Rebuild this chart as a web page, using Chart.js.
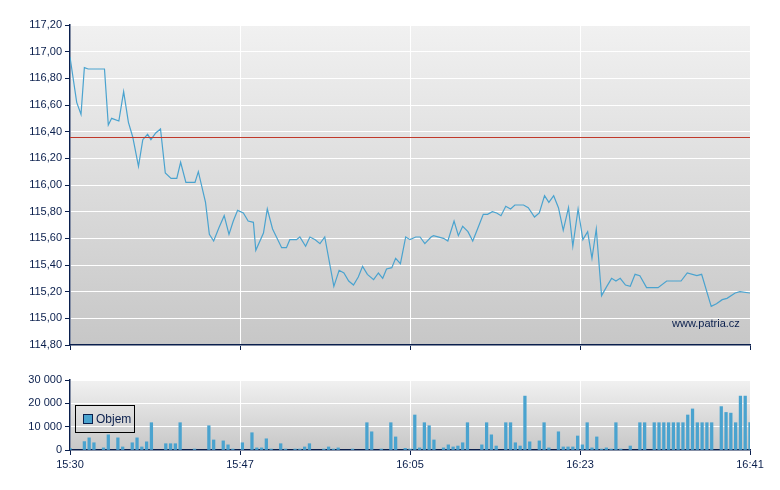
<!DOCTYPE html>
<html><head><meta charset="utf-8">
<script src="https://cdn.jsdelivr.net/npm/chart.js@4"></script>
<style>
body{margin:0;background:#fff;width:780px;height:490px;position:relative;overflow:hidden;font-family:"Liberation Sans",Arial,sans-serif}
#c1{position:absolute;left:0;top:0}
#c2{position:absolute;left:0;top:370px}
#leg{position:absolute;left:75px;top:405px;width:60px;height:28px;border:1px solid #000;font-size:12px;line-height:26px;color:#0a1f4d;box-sizing:border-box}
#leg span{display:inline-block;width:8px;height:8px;background:#4aa3cf;border:1px solid #0a1f4d;margin:0 3px 0 7px;vertical-align:-1px}
#wm{position:absolute;left:672px;top:317px;font-size:11px;color:#0a1f4d}
</style></head><body>
<canvas id="c1" width="780" height="360"></canvas>
<canvas id="c2" width="780" height="120"></canvas>
<div id="leg"><span></span>Objem</div>
<div id="wm">www.patria.cz</div>
<script>
const tickMinutes=[0,17.75,35.5,53.25,71];
const tickLabels=["15:30","15:47","16:05","16:23","16:41"];
const prevClose=116.36;
const priceTimes=[0,0.7,1.15,1.5,1.9,3.6,4.0,4.35,5.1,5.6,6.1,6.55,7.15,7.6,8.1,8.45,8.95,9.45,9.95,10.55,11.15,11.55,12.1,13.05,13.4,14.15,14.55,15.0,15.55,16.1,16.6,17.05,17.5,18.1,18.6,19.15,19.4,20.2,20.6,21.15,22.1,22.6,22.95,23.65,24.0,24.6,25.05,25.6,26.1,26.6,27.55,28.1,28.6,29.1,29.6,30.1,30.55,31.05,31.7,32.2,32.65,33.05,33.6,34.0,34.5,35.05,35.5,36.1,36.55,37.05,37.7,37.95,39.0,39.45,40.1,40.55,41.0,41.55,42.05,42.55,43.15,43.6,44.1,44.55,45.0,45.5,46.0,46.45,47.35,47.85,48.5,49.0,49.55,50.0,50.5,51.0,51.5,52.05,52.5,53.05,53.55,54.05,54.5,54.95,55.5,56.05,56.55,57.0,57.45,58.0,58.5,59.0,59.5,60.2,61.4,62.3,62.9,63.8,64.45,65.45,65.95,66.95,67.5,68.1,68.6,69.45,69.95,71];
const prices=[116.96,116.62,116.53,116.88,116.87,116.87,116.45,116.50,116.48,116.70,116.47,116.36,116.14,116.34,116.38,116.34,116.39,116.42,116.09,116.05,116.05,116.17,116.02,116.02,116.10,115.87,115.63,115.58,115.68,115.77,115.63,115.73,115.81,115.79,115.73,115.72,115.51,115.64,115.82,115.67,115.53,115.53,115.59,115.59,115.61,115.54,115.61,115.59,115.56,115.61,115.24,115.36,115.34,115.28,115.25,115.31,115.39,115.33,115.29,115.34,115.30,115.37,115.38,115.45,115.41,115.61,115.59,115.61,115.61,115.56,115.61,115.62,115.60,115.58,115.73,115.62,115.69,115.65,115.58,115.67,115.78,115.78,115.80,115.79,115.77,115.84,115.82,115.85,115.85,115.83,115.76,115.79,115.92,115.87,115.92,115.83,115.66,115.83,115.54,115.82,115.59,115.65,115.45,115.67,115.17,115.24,115.30,115.28,115.30,115.25,115.24,115.33,115.32,115.23,115.23,115.28,115.28,115.28,115.34,115.32,115.33,115.09,115.11,115.14,115.15,115.19,115.20,115.19];
const volSlots=[0,3,4,5,7,8,10,11,13,14,15,16,17,20,21,22,23,26,29,30,32,33,34,36,38,39,40,41,42,44,45,47,48,49,50,53,54,55,56,59,62,63,65,67,68,70,71,72,73,74,75,76,78,79,80,81,82,83,86,87,88,89,91,92,93,94,95,96,98,99,100,102,103,104,105,106,107,108,109,110,111,112,113,114,115,117,119,120,122,123,124,125,126,127,128,129,130,131,132,133,134,136,137,138,139,140,141,142];
const volumes=[700,3600,5200,3100,900,6500,5200,1300,3100,5200,1300,3500,11700,2700,2700,2700,11700,400,10400,4300,3900,2200,400,3100,7400,900,900,4800,400,2700,400,400,400,1300,2700,400,1300,400,900,400,11700,7800,400,11700,5600,700,400,15000,900,11700,10400,4300,900,2200,1300,1700,3100,11700,2200,11700,6500,1700,11700,11700,3100,1700,23100,3500,3900,11700,900,7800,1300,1300,1300,6000,2200,11700,900,5600,400,900,400,11700,400,1700,11700,11700,11700,11700,11700,11700,11700,11700,11700,15000,17600,11700,11700,11700,11700,18600,16100,15800,11700,23100,23100,11700];

const navy="#0a1f4d";
const font={family:"'Liberation Sans', Arial, sans-serif",size:11};
const bgPlugin={id:'bg',beforeDraw(c){const a=c.chartArea,x=c.ctx;const g=x.createLinearGradient(0,a.top,0,a.bottom);g.addColorStop(0,'#f1f1f1');g.addColorStop(1,'#c7c7c7');x.save();x.fillStyle=g;x.fillRect(a.left,a.top,a.right-a.left,a.bottom-a.top);x.restore();}};
const refPlugin={id:'ref',afterDatasetsDraw(c){const y=c.scales.y.getPixelForValue(prevClose),a=c.chartArea,x=c.ctx;x.save();x.strokeStyle='#c0392b';x.lineWidth=1;x.beginPath();x.moveTo(a.left,Math.round(y)+0.5);x.lineTo(a.right,Math.round(y)+0.5);x.stroke();x.restore();}};
function xScale(showLabels,h){return {type:'linear',min:0,max:71,offset:false,
  afterBuildTicks(s){s.ticks=tickMinutes.map(v=>({value:v}));},
  afterFit(s){s.height=h;},
  ticks:{display:showLabels,color:navy,font,maxRotation:0,autoSkip:false,callback:(v,i)=>tickLabels[i]},
  grid:{offset:false,color:'#ffffff',lineWidth:1,tickColor:navy,tickLength:5},
  border:{color:navy,width:1.5}};}
new Chart(document.getElementById('c1'),{type:'line',
 data:{datasets:[{data:priceTimes.map((t,i)=>({x:t,y:prices[i]})),borderColor:'#4aa3cf',borderWidth:1.2,pointRadius:0,tension:0}]},
 options:{responsive:false,animation:false,layout:{padding:{top:25,right:30,left:0,bottom:0}},
  plugins:{legend:{display:false},tooltip:{enabled:false}},
  scales:{x:xScale(false,15),
   y:{min:114.8,max:117.2,afterBuildTicks(s){const t=[];for(let i=0;i<=12;i++)t.push({value:114.8+i*0.2});s.ticks=t;},
    afterFit(s){s.width=70;},
    ticks:{color:navy,font,callback:v=>v.toFixed(2).replace('.',',')},
    grid:{color:'#ffffff',tickColor:navy,tickLength:5},border:{color:navy,width:1.5}}}},
 plugins:[bgPlugin,refPlugin]});
new Chart(document.getElementById('c2'),{type:'bar',
 data:{datasets:[{data:volSlots.map((k,i)=>({x:k/2,y:volumes[i]})),backgroundColor:'#4aa3cf',barThickness:2.6}]},
 options:{responsive:false,animation:false,layout:{padding:{top:10,right:30,left:0,bottom:20}},
  plugins:{legend:{display:false},tooltip:{enabled:false}},
  scales:{x:xScale(true,20),
   y:{min:0,max:30000,afterBuildTicks(s){s.ticks=[0,10000,20000,30000].map(v=>({value:v}));},
    afterFit(s){s.width=70;},
    ticks:{color:navy,font,callback:v=>v===0?'0':String(v).replace(/\B(?=(\d{3})+(?!\d))/g,' ')},
    grid:{color:'#ffffff',tickColor:navy,tickLength:5},border:{color:navy,width:1.5}}}},
 plugins:[bgPlugin]});
</script></body></html>
